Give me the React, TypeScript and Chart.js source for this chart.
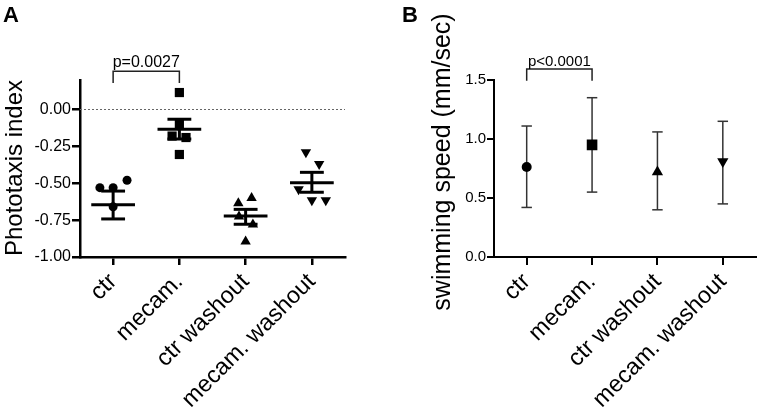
import React, { useEffect, useRef } from "react";
import { Chart, registerables } from "chart.js";

Chart.register(...registerables);

const FONT = "'Liberation Sans', Arial, Helvetica, sans-serif";

// ---------- data ----------
const categories = ["ctr", "mecam.", "ctr washout", "mecam. washout"];

// Panel A – individual phototaxis index values (x = jitter around the category)
const ctrJitter = [-0.2, 0, 0.21, 0];
const ctrValues = [-0.53, -0.53, -0.48, -0.66];
const mecamJitter = [0, 0, -0.11, 0.1, 0];
const mecamValues = [0.115, -0.1, -0.18, -0.19, -0.305];
const ctrWashJitter = [0.09, -0.11, -0.1, 0.11, 0];
const ctrWashValues = [-0.6, -0.635, -0.725, -0.78, -0.895];
const mecamWashJitter = [-0.09, 0.11, -0.2, 0, 0.21];
const mecamWashValues = [-0.29, -0.37, -0.54, -0.615, -0.615];

const phototaxisMean = [-0.645, -0.134, -0.722, -0.496];
const phototaxisSemHigh = [-0.553, -0.066, -0.677, -0.426];
const phototaxisSemLow = [-0.742, -0.2, -0.778, -0.561];
const phototaxisTicks = [-1, -0.75, -0.5, -0.25, 0];

// Panel B – swimming speed mean and SD
const speedMean = [0.763, 0.95, 0.72, 0.81];
const speedHigh = [1.11, 1.35, 1.06, 1.15];
const speedLow = [0.42, 0.55, 0.4, 0.45];
const speedTicks = [0, 0.5, 1.0, 1.5];

// ---------- plugins ----------
type SummaryOpts = {
  id: string;
  means: number[] | null;
  highs: number[];
  lows: number[];
  meanHalf: number;
  capHalf: number;
  lineWidth: number;
  color: string;
  layer: "before" | "after";
};

const makeSummaryPlugin = (o: SummaryOpts) => {
  const draw = (chart: any) => {
    const { ctx } = chart;
    const x = chart.scales.x;
    const y = chart.scales.y;
    const seg = (x1: number, y1: number, x2: number, y2: number) => {
      ctx.beginPath();
      ctx.moveTo(x1, y1);
      ctx.lineTo(x2, y2);
      ctx.stroke();
    };
    ctx.save();
    ctx.strokeStyle = o.color;
    ctx.lineWidth = o.lineWidth;
    o.highs.forEach((hi, i) => {
      const cx = x.getPixelForValue(i);
      const yHi = y.getPixelForValue(hi);
      const yLo = y.getPixelForValue(o.lows[i]);
      seg(cx, yHi, cx, yLo);
      const l = x.getPixelForValue(i - o.capHalf);
      const r = x.getPixelForValue(i + o.capHalf);
      seg(l, yHi, r, yHi);
      seg(l, yLo, r, yLo);
      if (o.means) {
        const ym = y.getPixelForValue(o.means[i]);
        seg(x.getPixelForValue(i - o.meanHalf), ym, x.getPixelForValue(i + o.meanHalf), ym);
      }
    });
    ctx.restore();
  };
  return o.layer === "before"
    ? { id: o.id, beforeDatasetsDraw: draw }
    : { id: o.id, afterDatasetsDraw: draw };
};

type TextOpts = {
  id: string;
  letter: string;
  letterX: number;
  letterY: number;
  title: string;
  titleX: number;
  titleY: number;
  titleSize: number;
  from: number;
  to: number;
  top: number;
  foot: number;
  pText: string;
  pSize: number;
  pGap: number;
};

const makeTextPlugin = (o: TextOpts) => ({
  id: o.id,
  afterDraw(chart: any) {
    const { ctx } = chart;
    const x = chart.scales.x;
    const y = chart.scales.y;
    ctx.save();
    ctx.fillStyle = "#000";
    // panel letter
    ctx.font = `bold 22px ${FONT}`;
    ctx.textAlign = "left";
    ctx.textBaseline = "alphabetic";
    ctx.fillText(o.letter, o.letterX, o.letterY);
    // y title
    ctx.save();
    ctx.translate(o.titleX, o.titleY);
    ctx.rotate(-Math.PI / 2);
    ctx.font = `${o.titleSize}px ${FONT}`;
    ctx.textAlign = "center";
    ctx.textBaseline = "alphabetic";
    ctx.fillText(o.title, 0, 0);
    ctx.restore();
    // significance bracket
    const x1 = x.getPixelForValue(o.from);
    const x2 = x.getPixelForValue(o.to);
    const yt = y.getPixelForValue(o.top);
    const yf = y.getPixelForValue(o.foot);
    ctx.strokeStyle = "#222";
    ctx.lineWidth = 1.5;
    ctx.beginPath();
    ctx.moveTo(x1, yf);
    ctx.lineTo(x1, yt);
    ctx.lineTo(x2, yt);
    ctx.lineTo(x2, yf);
    ctx.stroke();
    ctx.font = `${o.pSize}px ${FONT}`;
    ctx.textAlign = "center";
    ctx.textBaseline = "alphabetic";
    ctx.fillText(o.pText, (x1 + x2) / 2, yt - o.pGap);
    ctx.restore();
  },
});

// ---------- shared axis helpers ----------
const axisGrid = (w: number, len: number) => ({
  display: true,
  drawOnChartArea: false,
  drawTicks: true,
  tickLength: len,
  color: "#000",
  lineWidth: w,
});

const xAxis = (height: number, w: number) => ({
  type: "linear" as const,
  min: -0.5,
  max: 3.5,
  afterBuildTicks: (s: any) => {
    s.ticks = categories.map((_, i) => ({ value: i }));
  },
  afterFit: (s: any) => {
    s.height = height;
  },
  ticks: {
    autoSkip: false,
    minRotation: 45,
    maxRotation: 45,
    padding: 3,
    color: "#000",
    font: { family: FONT, size: 23.5 },
    callback: (v: any) => categories[Math.round(Number(v))] ?? "",
  },
  grid: axisGrid(w, 8),
  border: { display: true, color: "#000", width: w },
});

function PanelA() {
  const ref = useRef<HTMLCanvasElement | null>(null);
  useEffect(() => {
    if (!ref.current) return;
    const group = (jit: number[], vals: number[], i: number, style: string, r: number, rot = 0) => ({
      data: vals.map((v, k) => ({ x: i + jit[k], y: v })),
      pointStyle: style,
      pointRadius: r,
      rotation: rot,
      backgroundColor: "#000",
      borderColor: "#000",
      borderWidth: 0,
      showLine: false,
    });
    const chart = new Chart(ref.current, {
      type: "scatter",
      data: {
        datasets: [
          {
            data: [
              { x: -0.5, y: 0 },
              { x: 3.5, y: 0 },
            ],
            showLine: true,
            pointRadius: 0,
            borderColor: "#666",
            borderWidth: 1.2,
            borderDash: [2, 2],
          } as any,
          group(ctrJitter, ctrValues, 0, "circle", 4.5),
          group(mecamJitter, mecamValues, 1, "rect", 6.5),
          group(ctrWashJitter, ctrWashValues, 2, "triangle", 6),
          group(mecamWashJitter, mecamWashValues, 3, "triangle", 6, 180),
        ],
      },
      options: {
        animation: false,
        responsive: false,
        devicePixelRatio: 1,
        events: [],
        layout: { padding: { top: 80, right: 35, left: 0, bottom: 0 } },
        plugins: { legend: { display: false }, tooltip: { enabled: false } },
        scales: {
          x: xAxis(157, 2.5),
          y: {
            type: "linear",
            min: -1,
            max: 0.2,
            afterBuildTicks: (s: any) => {
              s.ticks = phototaxisTicks.map((v) => ({ value: v }));
            },
            afterFit: (s: any) => {
              s.width = 80;
            },
            ticks: {
              padding: 1,
              color: "#000",
              font: { family: FONT, size: 16 },
              callback: (v: any) => Number(v).toFixed(2),
            },
            grid: axisGrid(2.5, 8),
            border: { display: true, color: "#000", width: 2.5 },
          },
        },
      } as any,
      plugins: [
        makeSummaryPlugin({
          id: "semA",
          means: phototaxisMean,
          highs: phototaxisSemHigh,
          lows: phototaxisSemLow,
          meanHalf: 0.33,
          capHalf: 0.18,
          lineWidth: 3,
          color: "#000",
          layer: "after",
        }),
        makeTextPlugin({
          id: "textA",
          letter: "A",
          letterX: 3,
          letterY: 22,
          title: "Phototaxis index",
          titleX: 22,
          titleY: 168,
          titleSize: 24,
          from: 0,
          to: 1,
          top: 0.26,
          foot: 0.18,
          pText: "p=0.0027",
          pSize: 16,
          pGap: 4,
        }),
      ],
    });
    return () => chart.destroy();
  }, []);
  return <canvas ref={ref} width={380} height={414} style={{ width: 380, height: 414 }} />;
}

function PanelB() {
  const ref = useRef<HTMLCanvasElement | null>(null);
  useEffect(() => {
    if (!ref.current) return;
    const chart = new Chart(ref.current, {
      type: "scatter",
      data: {
        datasets: [
          {
            data: speedMean.map((v, i) => ({ x: i, y: v })),
            pointStyle: ["circle", "rect", "triangle", "triangle"],
            pointRadius: [5, 7.5, 6.5, 6.5],
            rotation: [0, 0, 0, 180],
            backgroundColor: "#000",
            borderColor: "#000",
            borderWidth: 0,
          } as any,
        ],
      },
      options: {
        animation: false,
        responsive: false,
        devicePixelRatio: 1,
        events: [],
        layout: { padding: { top: 80, right: 3, left: 0, bottom: 0 } },
        plugins: { legend: { display: false }, tooltip: { enabled: false } },
        scales: {
          x: xAxis(157, 2),
          y: {
            type: "linear",
            min: 0,
            max: 1.5,
            afterBuildTicks: (s: any) => {
              s.ticks = speedTicks.map((v) => ({ value: v }));
            },
            afterFit: (s: any) => {
              s.width = 114;
            },
            ticks: {
              padding: 1,
              color: "#000",
              font: { family: FONT, size: 15 },
              callback: (v: any) => Number(v).toFixed(1),
            },
            grid: axisGrid(2, 7),
            border: { display: true, color: "#000", width: 2 },
          },
        },
      } as any,
      plugins: [
        makeSummaryPlugin({
          id: "sdB",
          means: null,
          highs: speedHigh,
          lows: speedLow,
          meanHalf: 0,
          capHalf: 0.08,
          lineWidth: 1.5,
          color: "#333",
          layer: "before",
        }),
        makeTextPlugin({
          id: "textB",
          letter: "B",
          letterX: 22,
          letterY: 22,
          title: "swimming speed (mm/sec)",
          titleX: 70,
          titleY: 162,
          titleSize: 25,
          from: 0,
          to: 1,
          top: 1.593,
          foot: 1.494,
          pText: "p<0.0001",
          pSize: 15,
          pGap: 3,
        }),
      ],
    });
    return () => chart.destroy();
  }, []);
  return <canvas ref={ref} width={383} height={414} style={{ width: 383, height: 414 }} />;
}

export default function App() {
  return (
    <div
      style={{
        position: "fixed",
        left: 0,
        top: 0,
        width: 763,
        height: 414,
        background: "#fff",
        overflow: "hidden",
      }}
    >
      <div style={{ position: "absolute", left: 0, top: 0 }}>
        <PanelA />
      </div>
      <div style={{ position: "absolute", left: 380, top: 0 }}>
        <PanelB />
      </div>
    </div>
  );
}
